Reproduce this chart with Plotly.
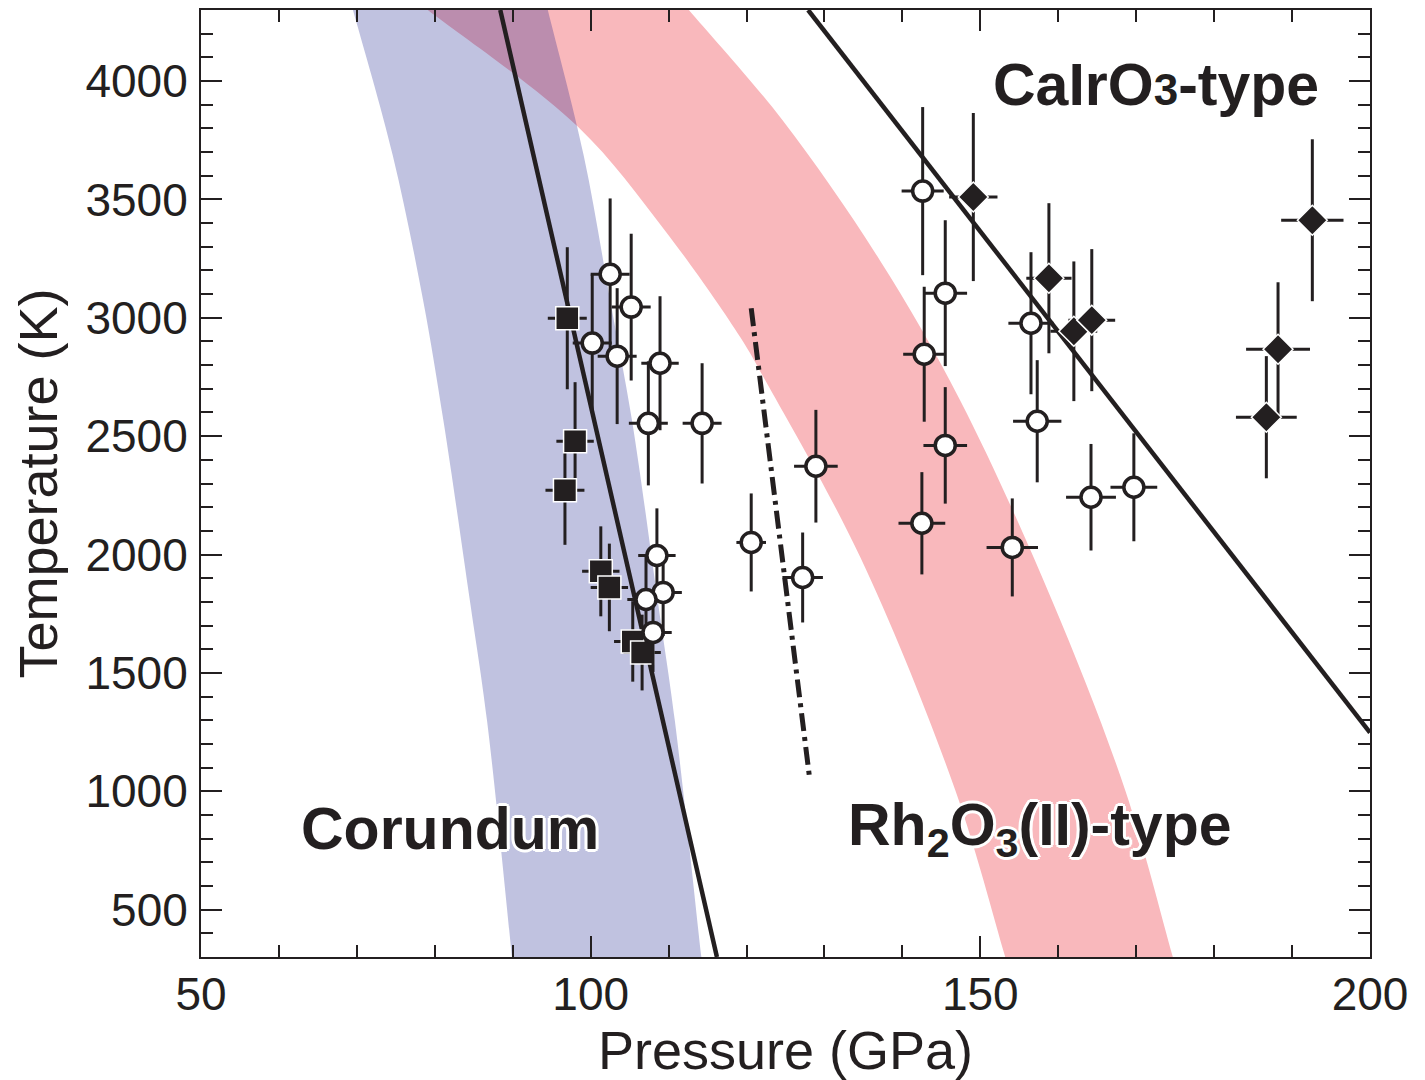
import plotly.graph_objects as go

INK = "#231f20"
FONT = "Liberation Sans, Arial, Helvetica, sans-serif"

# ---- data (pressure in GPa, temperature in K) ----
# Corundum (filled squares)
sq_p = [97.0, 98.0, 96.7, 101.3, 102.4, 105.4, 106.6]
sq_t = [2998, 2478, 2271, 1929, 1861, 1633, 1586]
sq_ep = [2.5, 2.4, 2.5, 2.4, 2.4, 2.4, 2.4]
sq_et = [300, 250, 230, 190, 185, 170, 160]

# Rh2O3(II)-type (open circles)
ci_p = [102.5, 105.2, 100.2, 103.4, 108.9, 107.4, 114.3, 108.5, 109.3, 107.1, 108.0,
        120.6, 128.9, 127.2, 142.6, 145.5, 142.8, 145.5, 142.5, 154.1, 157.3, 156.5,
        164.2, 169.7]
ci_t = [3184, 3045, 2893, 2838, 2808, 2554, 2554, 1996, 1840, 1810, 1671,
        2051, 2373, 1903, 3535, 3104, 2846, 2461, 2132, 2030, 2563, 2977,
        2242, 2284]
ci_ep = [2.5, 2.5, 2.5, 2.5, 2.4, 2.5, 2.5, 2.4, 2.4, 2.4, 2.4,
         1.9, 2.8, 2.6, 2.7, 2.8, 2.7, 2.8, 3.0, 3.3, 3.1, 2.9,
         3.2, 3.0]
ci_et = [320, 310, 290, 287, 283, 262, 254, 199, 184, 181, 167,
         207, 238, 190, 355, 308, 285, 246, 216, 207, 258, 300,
         225, 228]

# CaIrO3-type (filled diamonds)
di_p = [149.1, 158.8, 162.0, 164.3, 192.6, 188.2, 186.7]
di_t = [3510, 3167, 2943, 2990, 3412, 2867, 2580]
di_ep = [3.1, 2.9, 3.0, 3.0, 4.0, 4.1, 3.9]
di_et = [355, 317, 295, 300, 342, 283, 258]

# phase boundaries
b1_p = [88.4, 116.2]
b1_t = [4300, 300]
b2_p = [127.9, 200.0]
b2_t = [4300, 1248]
b3_p = [120.6, 128.1]
b3_t = [3040, 1054]

# uncertainty bands (edges)
blue_t = [4500, 4300, 3687, 3074, 2567, 1806, 1299, 300, 100]
blue_left_p = [67.8, 69.5, 74.6, 78.5, 81.1, 84.5, 86.7, 89.9, 90.5]
blue_right_p = [93.0, 94.5, 99.1, 102.5, 105.3, 108.6, 110.8, 114.2, 114.9]

pink_left_t = [4400, 4300, 3806, 3370, 2918, 2736, 1988, 1003, 300, 100]
pink_left_p = [75.2, 79.1, 98.4, 109.5, 119.2, 122.4, 134.6, 146.8, 153.2, 155.0]
pink_right_t = [4400, 4300, 3835, 3243, 2652, 1806, 1003, 300, 100]
pink_right_p = [110.0, 112.6, 124.6, 137.1, 147.4, 159.2, 168.6, 174.7, 176.4]

labels = ["<b>Corundum</b>",
          "<b>Rh<sub>2</sub>O<sub>3</sub>(II)-type</b>",
          "<b>CaIrO<span style='font-size:44px'>3</span>-type</b>"]
label_p = [82.0, 157.7, 172.5]
label_t = [842, 842, 3983]

fig = go.Figure()

# pink band (opaque)
fig.add_trace(go.Scatter(x=pink_left_p, y=pink_left_t, mode="lines",
                         line=dict(width=0, shape="spline", color="rgba(0,0,0,0)"),
                         hoverinfo="skip", showlegend=False))
fig.add_trace(go.Scatter(x=pink_right_p, y=pink_right_t, mode="lines", fill="tonextx",
                         fillcolor="#f9b8bc",
                         line=dict(width=0, shape="spline", color="rgba(0,0,0,0)"),
                         hoverinfo="skip", showlegend=False))
# blue band (translucent, gives purple over pink)
fig.add_trace(go.Scatter(x=blue_left_p, y=blue_t, mode="lines",
                         line=dict(width=0, shape="spline", color="rgba(0,0,0,0)"),
                         hoverinfo="skip", showlegend=False))
fig.add_trace(go.Scatter(x=blue_right_p, y=blue_t, mode="lines", fill="tonextx",
                         fillcolor="rgba(3,11,131,0.25)",
                         line=dict(width=0, shape="spline", color="rgba(0,0,0,0)"),
                         hoverinfo="skip", showlegend=False))

# boundaries
fig.add_trace(go.Scatter(x=b1_p, y=b1_t, mode="lines", line=dict(color=INK, width=4.5),
                         showlegend=False))
fig.add_trace(go.Scatter(x=b2_p, y=b2_t, mode="lines", line=dict(color=INK, width=4.5),
                         showlegend=False))
fig.add_trace(go.Scatter(x=b3_p, y=b3_t, mode="lines",
                         line=dict(color=INK, width=5, dash="18px,6px,4px,6px"),
                         showlegend=False))

eb = dict(type="data", color=INK, thickness=3, width=0)

fig.add_trace(go.Scatter(
    x=sq_p, y=sq_t, mode="markers",
    marker=dict(symbol="square", size=23, color=INK, line=dict(color="white", width=1.5)),
    error_x=dict(array=sq_ep, **eb), error_y=dict(array=sq_et, **eb), showlegend=False))
fig.add_trace(go.Scatter(
    x=ci_p, y=ci_t, mode="markers",
    marker=dict(symbol="circle", size=20, color="white", line=dict(color=INK, width=3.5)),
    error_x=dict(array=ci_ep, **eb), error_y=dict(array=ci_et, **eb), showlegend=False))
fig.add_trace(go.Scatter(
    x=di_p, y=di_t, mode="markers",
    marker=dict(symbol="diamond", size=23, color=INK, line=dict(color="white", width=1.5)),
    error_x=dict(array=di_ep, **eb), error_y=dict(array=di_et, **eb), showlegend=False))

halo = ("white 2px 2px 0, white -2px -2px 0, white 2px -2px 0, white -2px 2px 0, "
        "white 0 3px 0, white 0 -3px 0, white 3px 0 0, white -3px 0 0")
for txt, px, ty in zip(labels, label_p, label_t):
    fig.add_annotation(x=px, y=ty, text=txt, showarrow=False, xanchor="center", yanchor="middle",
                       font=dict(family=FONT, size=59, color=INK, shadow=halo))

axis_common = dict(
    showline=True, linecolor=INK, linewidth=2, mirror="allticks",
    ticks="inside", ticklen=21, tickwidth=2, tickcolor=INK,
    showgrid=False, zeroline=False,
    tickfont=dict(family=FONT, size=46, color=INK),
)

fig.update_xaxes(range=[50, 200], tick0=0, dtick=50,
                 minor=dict(dtick=10, ticks="inside", ticklen=12, tickwidth=2, tickcolor=INK),
                 title=dict(text="Pressure (GPa)", font=dict(family=FONT, size=54, color=INK),
                            standoff=2),
                 ticklabelstandoff=-4,
                 **axis_common)
fig.update_yaxes(range=[300, 4300], tick0=0, dtick=500,
                 minor=dict(dtick=100, ticks="inside", ticklen=12, tickwidth=2, tickcolor=INK),
                 title=dict(text="Temperature (K)", font=dict(family=FONT, size=54, color=INK),
                            standoff=15),
                 ticklabelstandoff=2,
                 **axis_common)

fig.update_layout(width=1425, height=1080,
                  margin=dict(l=193, r=63, t=2, b=131, autoexpand=False),
                  plot_bgcolor="white", paper_bgcolor="white")

fig.write_html("out.html")
